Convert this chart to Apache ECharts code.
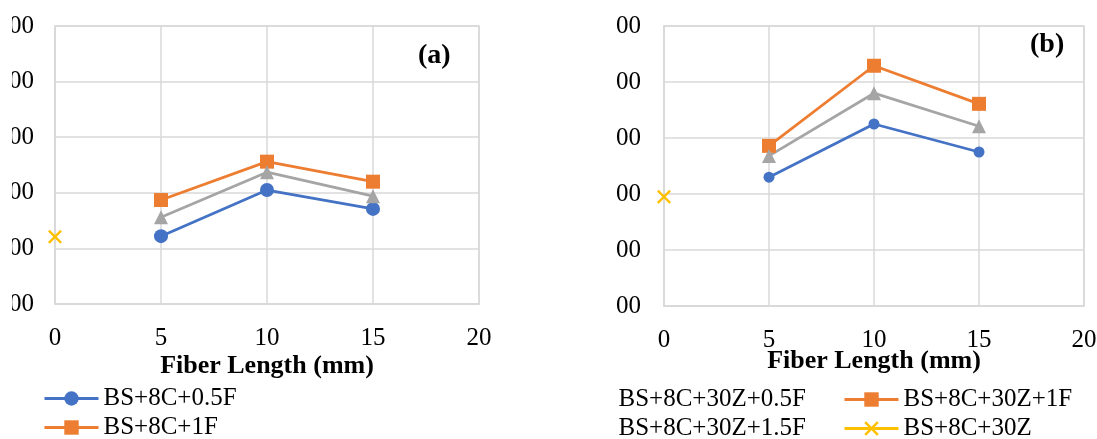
<!DOCTYPE html>
<html>
<head>
<meta charset="utf-8">
<script src="https://cdn.jsdelivr.net/npm/echarts@6/dist/echarts.min.js"></script>
<style>
html,body{margin:0;padding:0;background:#fff;}
#chart{width:1097px;height:439px;}
</style>
</head>
<body>
<div id="chart"></div>
<script>
// ---- data ----
const xTicks = [0, 5, 10, 15, 20];
const yTicks = [100, 200, 300, 400, 500, 600];
const fiberLengths = [5, 10, 15];

const namesA = ['BS+8C+0.5F', 'BS+8C+1F', 'BS+8C+1.5F', 'BS+8C'];
const a_05F = [222, 305, 271];
const a_1F = [287, 356, 320];
const a_15F = [256, 337, 294];
const a_ref = [221]; // at fiber length 0

const namesB = ['BS+8C+30Z+0.5F', 'BS+8C+30Z+1F', 'BS+8C+30Z+1.5F', 'BS+8C+30Z'];
const b_05F = [330, 425, 375];
const b_1F = [386, 529, 461];
const b_15F = [368, 480, 421];
const b_ref = [295];

const panelLabels = ['(a)', '(b)'];
const xTitle = 'Fiber Length (mm)';

// ---- styles ----
const FONT = "'Liberation Serif','Times New Roman',serif";
const C = ['#4472C4', '#ED7D31', '#A5A5A5', '#FFC000'];
const GRID = '#d9d9d9';
const X_PATH = 'path://M0,1.2L1.2,0L10,8.8L8.8,10Z M8.8,0L10,1.2L1.2,10L0,8.8Z';

const pair = (xs, ys) => ys.map((v, i) => [xs[i], v]);

function xAxisCfg(gi, gap, margin) {
  return {
    gridIndex: gi, type: 'value', min: xTicks[0], max: xTicks[xTicks.length - 1], interval: 5,
    axisLine: {show: true, lineStyle: {color: GRID, width: 1.5}},
    axisTick: {show: false},
    splitLine: {show: true, lineStyle: {color: GRID, width: 1.5}},
    axisLabel: {color: '#000', fontFamily: FONT, fontSize: 25, margin: margin},
    name: xTitle, nameLocation: 'middle', nameGap: gap, nameMoveOverlap: false,
    nameTextStyle: {color: '#000', fontFamily: FONT, fontSize: 26, fontWeight: 'bold'}
  };
}
function yAxisCfg(gi, margin) {
  return {
    gridIndex: gi, type: 'value', min: yTicks[0], max: yTicks[yTicks.length - 1], interval: 100,
    axisLine: {show: true, lineStyle: {color: GRID, width: 1.5}},
    axisTick: {show: false},
    splitLine: {show: true, lineStyle: {color: GRID, width: 1.5}},
    axisLabel: {color: '#000', fontFamily: FONT, fontSize: 25, margin: margin}
  };
}
function lineSeries(name, gi, data, color, symbol, size) {
  return {
    name: name, type: 'line', xAxisIndex: gi, yAxisIndex: gi, data: data,
    symbol: symbol, symbolSize: size, showSymbol: true,
    lineStyle: {color: color, width: 2.8},
    itemStyle: {color: color},
    emphasis: {disabled: true}, animation: false
  };
}

const series = [
  lineSeries(namesA[0], 0, pair(fiberLengths, a_05F), C[0], 'circle', 14),
  lineSeries(namesA[1], 0, pair(fiberLengths, a_1F), C[1], 'rect', 14),
  lineSeries(namesA[2], 0, pair(fiberLengths, a_15F), C[2], 'triangle', 14),
  lineSeries(namesA[3], 0, pair([0], a_ref), C[3], X_PATH, 14),
  lineSeries(namesB[0], 1, pair(fiberLengths, b_05F), C[0], 'circle', 11),
  lineSeries(namesB[1], 1, pair(fiberLengths, b_1F), C[1], 'rect', 14),
  lineSeries(namesB[2], 1, pair(fiberLengths, b_15F), C[2], 'triangle', 14),
  lineSeries(namesB[3], 1, pair([0], b_ref), C[3], X_PATH, 14)
];

const legendText = {color: '#000', fontFamily: FONT, fontSize: 25, lineHeight: 25};
function legendCfg(names, left, top) {
  return {
    data: names, orient: 'vertical', left: left, top: top, height: 80, width: 300,
    itemWidth: 54, itemHeight: 18, itemGap: 4, padding: 0,
    lineStyle: {width: 3},
    textStyle: legendText, selectedMode: false
  };
}

const gridBase = {show: true, borderColor: GRID, borderWidth: 1.5, containLabel: false, outerBoundsMode: 'none'};

const chart = echarts.init(document.getElementById('chart'), null, {renderer: 'canvas'});
chart.setOption({
  backgroundColor: '#fff',
  animation: false,
  grid: [
    Object.assign({left: 55, top: 26, width: 424, height: 278}, gridBase),
    Object.assign({left: 664, top: 26, width: 420, height: 280}, gridBase)
  ],
  xAxis: [xAxisCfg(0, 49, 22), xAxisCfg(1, 42, 22)],
  yAxis: [yAxisCfg(0, 21), yAxisCfg(1, 23)],
  legend: [
    legendCfg([namesA[0], namesA[1]], 43, 386),
    legendCfg([namesB[0], namesB[2]], 558, 387),
    legendCfg([namesB[1], namesB[3]], 843, 387)
  ],
  graphic: [
    {type: 'text', left: 418, top: 42, z: 100, style: {text: panelLabels[0], font: "bold 28px 'Liberation Serif','Times New Roman',serif", fill: '#000'}},
    {type: 'text', left: 1030, top: 31, z: 100, style: {text: panelLabels[1], font: "bold 28px 'Liberation Serif','Times New Roman',serif", fill: '#000'}},
    // crop edges of the composed panels
    {type: 'rect', z: 100, shape: {x: 0, y: 0, width: 12, height: 330}, style: {fill: '#fff'}},
    {type: 'rect', z: 100, shape: {x: 556, y: 0, width: 60, height: 439}, style: {fill: '#fff'}}
  ],
  series: series
});
</script>
</body>
</html>
